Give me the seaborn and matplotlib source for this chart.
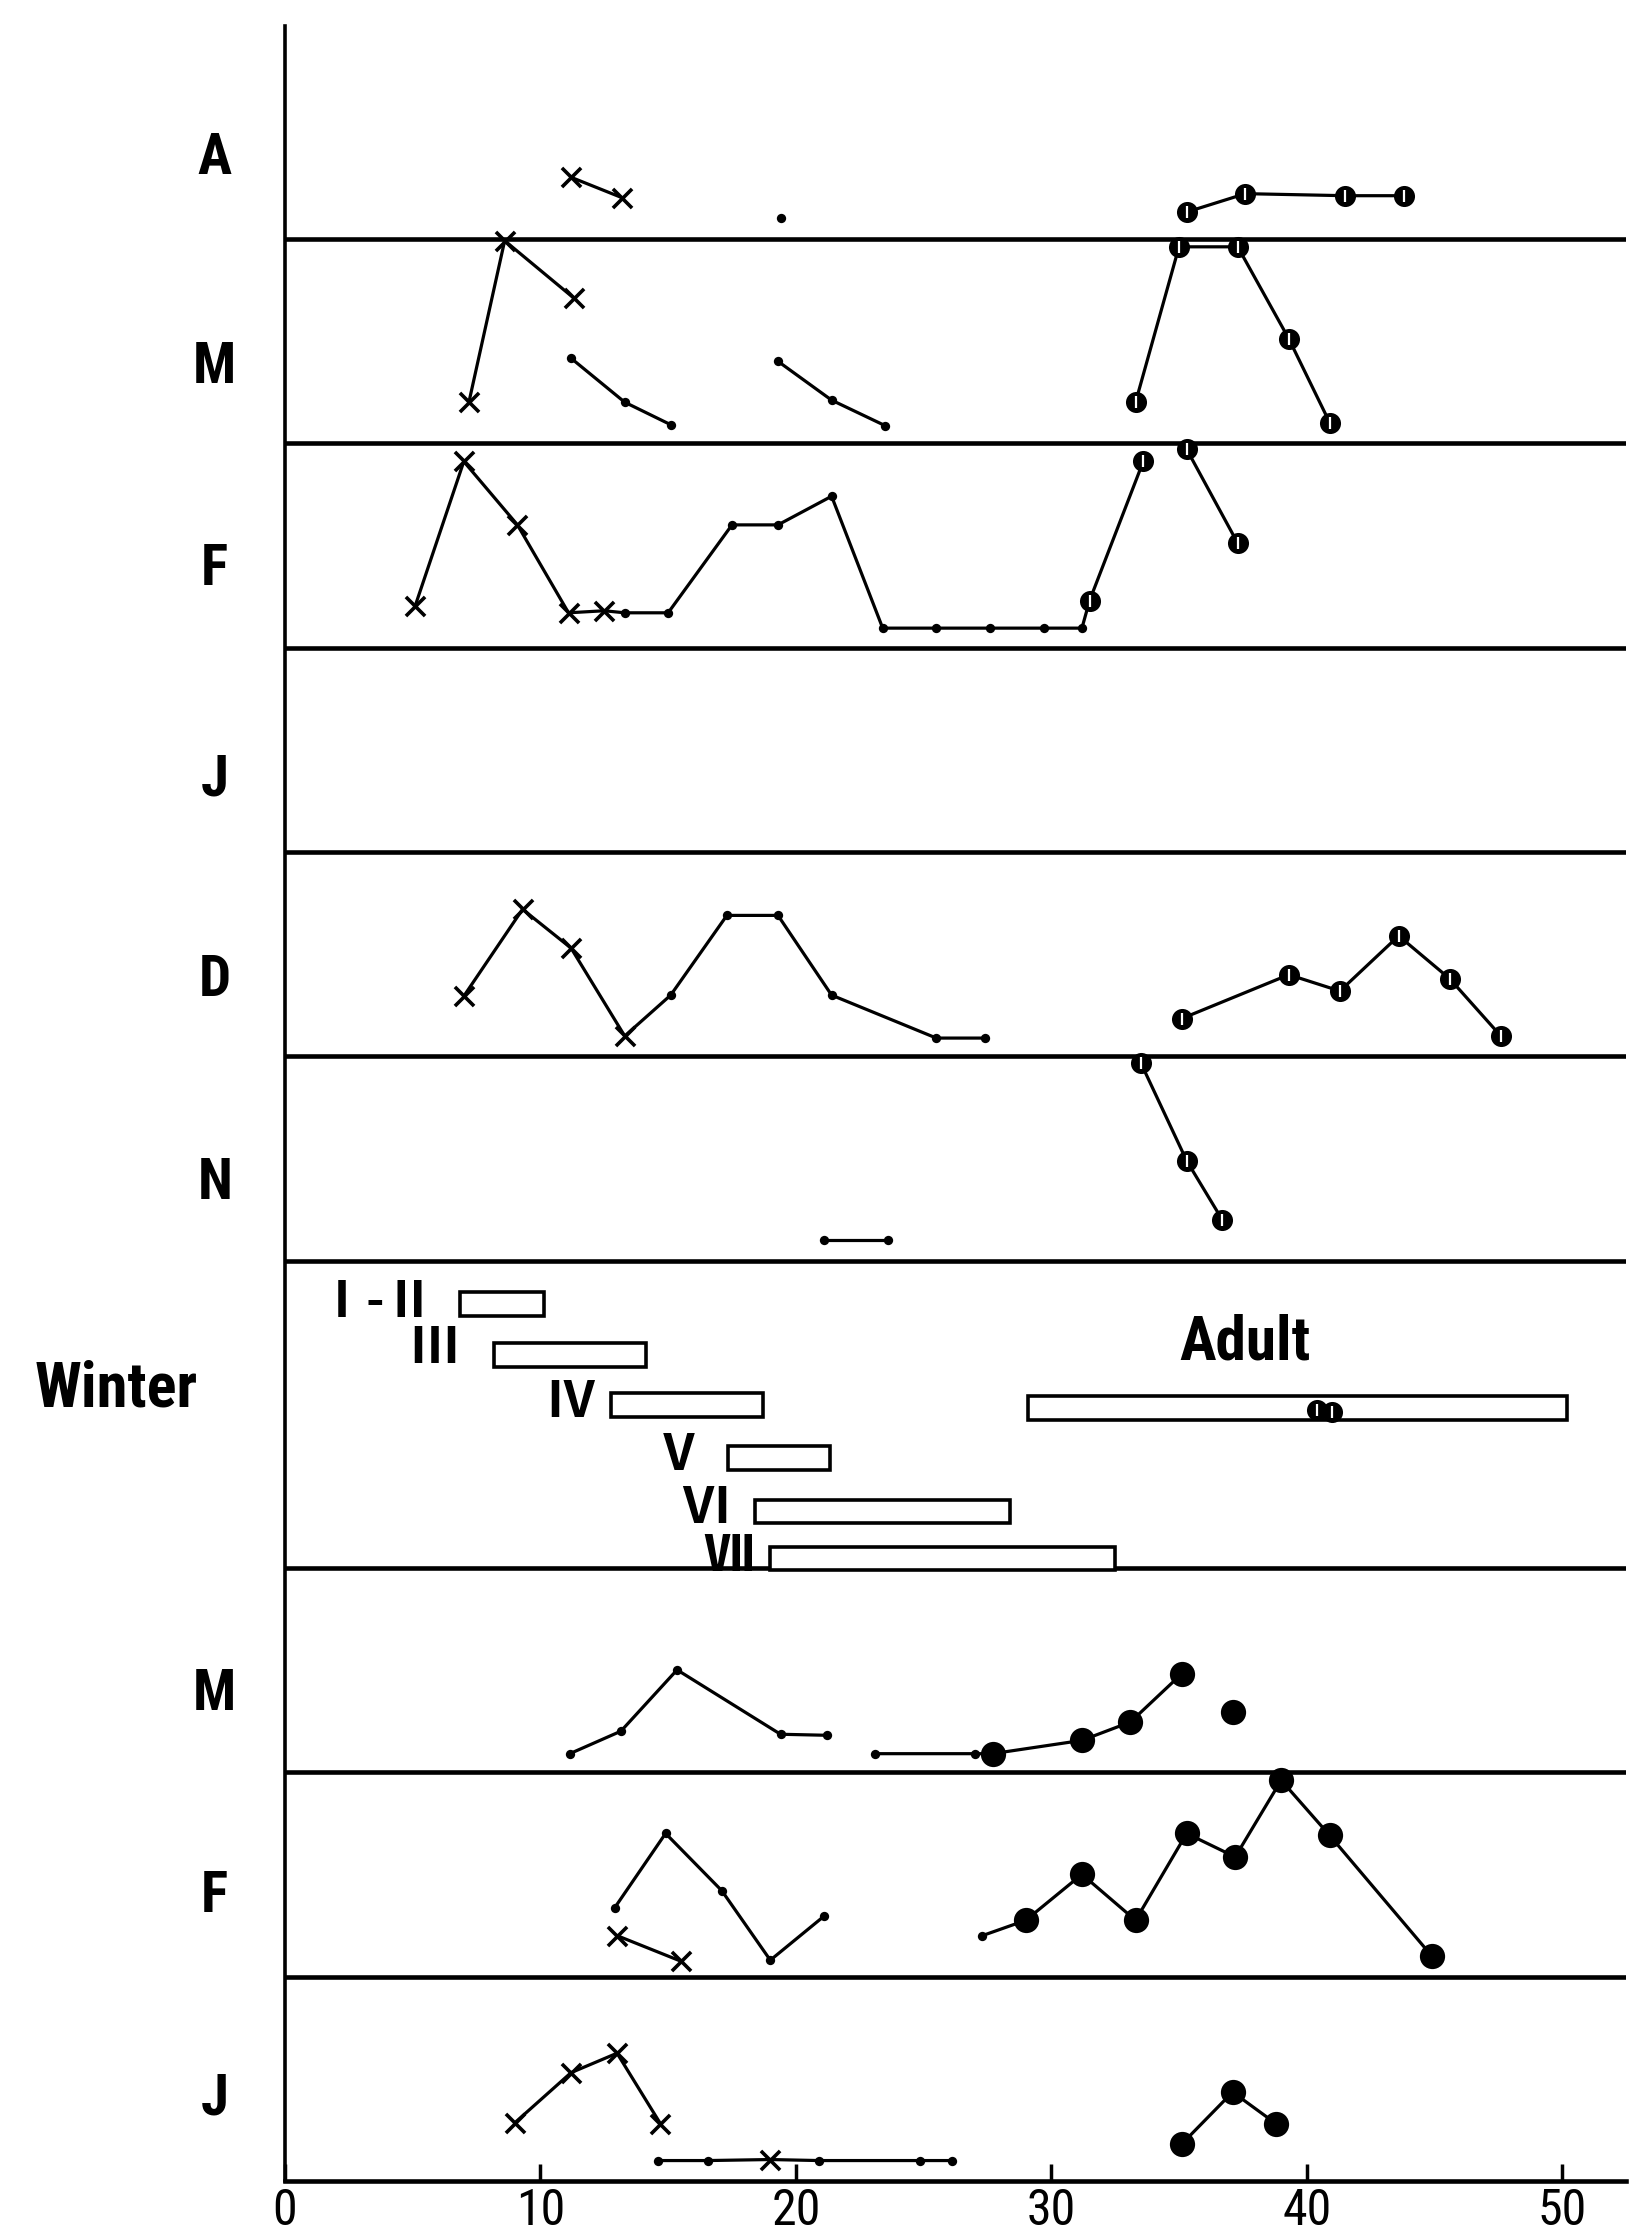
import numpy as np
import pandas as pd
import matplotlib
matplotlib.use("Agg")
import matplotlib.pyplot as plt
from matplotlib import font_manager as fm
import seaborn as sns

# ---------------- data ----------------
# panels from top to bottom
panel_names = ["A", "M", "F", "J", "D", "N", "Winter", "M", "F", "J"]

# each segment: (x values, y values above panel baseline, marker codes)
# marker codes: x = cross, . = small dot, o = slit circle, O = solid circle
A_segments = [
    ([11.2, 13.2], [3.0, 2.0], "xx"),
    ([19.4], [1.0], "."),
    ([35.3, 37.6, 41.5, 43.8], [1.3, 2.2, 2.1, 2.1], "oooo"),
]
M1_segments = [
    ([7.2, 8.6, 11.3], [2.0, 9.9, 7.1], "xxx"),
    ([11.2, 13.3, 15.1], [4.15, 2.0, 0.9], "..."),
    ([19.3, 21.4, 23.5], [4.0, 2.1, 0.85], "..."),
    ([33.3, 35.0, 37.3, 39.3, 40.9], [2.0, 9.6, 9.6, 5.1, 1.0], "ooooo"),
]
F1_segments = [
    ([5.1, 7.0, 9.1, 11.1, 12.5, 13.3, 15.0, 17.5, 19.3, 21.4, 23.4, 25.5,
      27.6, 29.7, 31.2, 31.5, 33.6],
     [2.05, 9.1, 6.0, 1.7, 1.8, 1.7, 1.7, 6.0, 6.0, 7.4, 0.95, 0.95,
      0.95, 0.95, 0.95, 2.3, 9.1],
     "xxxxx..........oo"),
    ([35.3, 37.3], [9.7, 5.1], "oo"),
]
J1_segments = []
D_segments = [
    ([7.0, 9.3, 11.2, 13.3, 15.1, 17.3, 19.3, 21.4, 25.5, 27.4],
     [2.95, 7.2, 5.3, 1.0, 3.0, 6.9, 6.9, 3.0, 0.9, 0.9], "xxxx......"),
    ([35.1, 39.3, 41.3, 43.6, 45.6, 47.6], [1.85, 4.0, 3.2, 5.9, 3.8, 1.0], "oooooo"),
]
N_segments = [
    ([33.5, 35.3, 36.7], [9.7, 4.9, 2.0], "ooo"),
    ([21.1, 23.6], [1.0, 1.0], ".."),
]
Winter_segments = [
    ([40.4, 41.0], [7.7, 7.6], "oo"),
]
M2_segments = [
    ([11.15, 13.15, 15.35, 19.4, 21.2], [0.9, 2.0, 5.0, 1.85, 1.8], "....."),
    ([23.1, 27.0, 27.7, 31.2, 33.1, 35.1], [0.9, 0.9, 0.9, 1.55, 2.45, 4.8], "..OOOO"),
    ([37.1], [2.95], "O"),
]
F2_segments = [
    ([12.9, 14.9, 17.1, 19.0, 21.1], [3.35, 7.0, 4.2, 0.8, 2.95], "....."),
    ([13.0, 15.5], [2.0, 0.75], "xx"),
    ([27.3, 29.0, 31.2, 33.3, 35.3, 37.2, 39.0, 40.9, 44.9],
     [2.0, 2.75, 5.0, 2.75, 7.0, 5.85, 9.6, 6.9, 1.0], ".OOOOOOOO"),
]
J2_segments = [
    ([9.0, 11.2, 13.0, 14.7], [2.85, 5.3, 6.25, 2.8], "xxxx"),
    ([14.6, 16.55, 19.0, 20.9, 24.85, 26.1], [1.0, 1.0, 1.05, 1.0, 1.0, 1.0], "..x..."),
    ([35.1, 37.1, 38.8], [1.8, 4.35, 2.8], "OOO"),
]

# winter developmental stages (range on the x scale)
stage_names = ["Ⅰ-Ⅱ", "Ⅲ", "Ⅳ", "Ⅴ", "Ⅵ", "Ⅶ", "Adult"]
stage_start = [6.85, 8.2, 12.75, 17.35, 18.4, 19.0, 29.1]
stage_end = [10.15, 14.15, 18.7, 21.35, 28.4, 32.5, 50.2]

x_ticks = [0, 10, 20, 30, 40, 50]

# ---------------- layout ----------------
panel_heights = [10.4, 10, 10, 10, 10, 10, 15, 10, 10, 10]
label_offset = [3.9, 3.7, 3.8, 3.5, 3.7, 3.8, 8.7, 3.8, 3.9, 4.0]
stage_row = [12.9, 10.4, 7.95, 5.35, 2.75, 0.45, 7.8]
stage_label_x = [3.55, 5.85, 11.15, 15.4, 16.5, 17.35]
stage_label_y = [12.95, 10.7, 8.1, 5.5, 2.9, 0.55]
adult_label_xy = (37.6, 11.0)

all_segments = [A_segments, M1_segments, F1_segments, J1_segments, D_segments,
                N_segments, Winter_segments, M2_segments, F2_segments, J2_segments]

total_h = sum(panel_heights)
baselines = []
top = total_h
for h in panel_heights:
    baselines.append(top - h)
    top -= h

rows = []
for p, (segs, base) in enumerate(zip(all_segments, baselines)):
    for s, (xs, ys, mk) in enumerate(segs):
        for xv, yv, m in zip(xs, ys, mk):
            rows.append(dict(panel=p, seg=f"{p}-{s}", x=xv, y=yv + base, mk=m))
df = pd.DataFrame(rows)

# ---------------- style ----------------
sns.set_style("white")
avail = {f.name for f in fm.fontManager.ttflist}
condensed = None
for cand in ["Liberation Sans Narrow", "DejaVu Sans Condensed", "Roboto Condensed",
             "Open Sans Condensed", "Noto Sans Condensed"]:
    if cand in avail:
        condensed = cand
        break
if condensed is None:
    LABEL_FONT = ["DejaVu Sans"]
    LBL_SIZE, TICK_SIZE, ADULT_SIZE, WINTER_SIZE = 36, 34, 35, 34
else:
    LABEL_FONT = [condensed, "DejaVu Sans"]
    LBL_SIZE, TICK_SIZE, ADULT_SIZE, WINTER_SIZE = 41, 36, 44, 45
ROMAN_FONT = ["Noto Sans CJK JP", "DejaVu Sans"]
plt.rcParams["font.family"] = LABEL_FONT
plt.rcParams["text.color"] = "black"
plt.rcParams["xtick.color"] = "black"
plt.rcParams["xtick.labelcolor"] = "black"

W, H = 1649, 2237
fig = plt.figure(figsize=(W / 100, H / 100), dpi=100)
ax = fig.add_axes([285 / W, 1 - 2181 / H, (1626 - 285) / W, (2181 - 26) / H])
ax.set_xlim(0, 52.5)
ax.set_ylim(0, total_h)

for b in baselines[:-1]:
    ax.axhline(b, color="black", lw=3.3, zorder=1)

sns.lineplot(data=df, x="x", y="y", units="seg", estimator=None, sort=False,
             color="black", lw=2.3, legend=False, ax=ax, zorder=2)

d = df[df.mk == "x"]
sns.scatterplot(data=d, x="x", y="y", marker="x", s=190, color="black",
                linewidth=2.6, ax=ax, zorder=4, legend=False)
d = df[df.mk == "."]
sns.scatterplot(data=d, x="x", y="y", marker="o", s=45, color="black",
                linewidth=0, ax=ax, zorder=4, legend=False)
d = df[df.mk == "o"]
sns.scatterplot(data=d, x="x", y="y", marker="o", s=230, color="black",
                linewidth=0, ax=ax, zorder=4, legend=False)
sns.scatterplot(data=d, x="x", y="y", marker="|", s=70, color="white",
                linewidth=1.6, ax=ax, zorder=5, legend=False)
d = df[df.mk == "O"]
sns.scatterplot(data=d, x="x", y="y", marker="o", s=330, color="black",
                linewidth=0, ax=ax, zorder=4, legend=False)

wb = baselines[panel_names.index("Winter")]
ax.barh([wb + r for r in stage_row], np.array(stage_end) - np.array(stage_start),
        left=stage_start, height=1.15, color="white", edgecolor="black",
        linewidth=2.6, zorder=3)
for name, lx, ly in zip(stage_names[:-1], stage_label_x, stage_label_y):
    ax.text(lx, wb + ly, name, ha="center", va="center", fontsize=36,
            fontweight="bold", family=ROMAN_FONT, color="black", zorder=6)
ax.text(adult_label_xy[0], wb + adult_label_xy[1], stage_names[-1], ha="center",
        va="center", fontsize=ADULT_SIZE, fontweight="bold", family=LABEL_FONT,
        color="black")

for name, base, off in zip(panel_names, baselines, label_offset):
    xpos = -6.6 if name == "Winter" else -2.75
    size = WINTER_SIZE if name == "Winter" else LBL_SIZE
    ax.text(xpos, base + off, name, ha="center", va="center", fontsize=size,
            fontweight="bold", family=LABEL_FONT, color="black", clip_on=False)

ax.set_xlabel("")
ax.set_ylabel("")
ax.set_yticks([])
ax.set_xticks(x_ticks)
ax.set_xticklabels([str(t) for t in x_ticks], fontsize=TICK_SIZE,
                   family=LABEL_FONT, color="black")
ax.tick_params(axis="x", direction="in", length=12, width=2.5, pad=4, bottom=True,
               colors="black")
for side in ["top", "right"]:
    ax.spines[side].set_visible(False)
ax.spines["left"].set_linewidth(2.6)
ax.spines["bottom"].set_linewidth(3.3)
ax.spines["left"].set_color("black")
ax.spines["bottom"].set_color("black")

fig.savefig("out.png", dpi=100, facecolor="white")
